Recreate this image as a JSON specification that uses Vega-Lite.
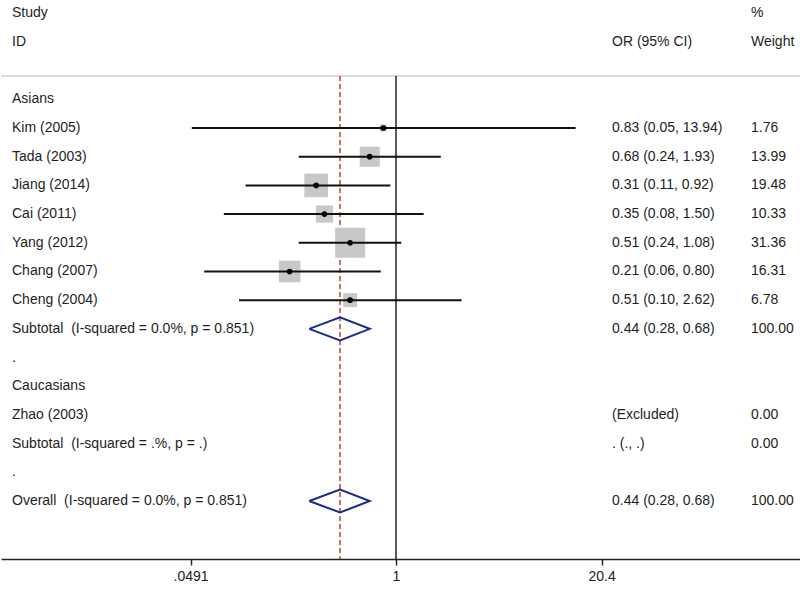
{
  "$schema": "https://vega.github.io/schema/vega-lite/v6.json",
  "width": 800,
  "height": 559,
  "padding": 0,
  "background": "white",
  "config": {"view": {"stroke": null}, "font": "Liberation Sans"},
  "datasets": {
    "studies": [
      {"study": "Kim (2005)", "row": 1, "or": 0.83, "lo": 0.05, "hi": 13.94, "w": 1.76},
      {"study": "Tada (2003)", "row": 2, "or": 0.68, "lo": 0.24, "hi": 1.93, "w": 13.99},
      {"study": "Jiang (2014)", "row": 3, "or": 0.31, "lo": 0.11, "hi": 0.92, "w": 19.48},
      {"study": "Cai (2011)", "row": 4, "or": 0.35, "lo": 0.08, "hi": 1.50, "w": 10.33},
      {"study": "Yang (2012)", "row": 5, "or": 0.51, "lo": 0.24, "hi": 1.08, "w": 31.36},
      {"study": "Chang (2007)", "row": 6, "or": 0.21, "lo": 0.06, "hi": 0.80, "w": 16.31},
      {"study": "Cheng (2004)", "row": 7, "or": 0.51, "lo": 0.10, "hi": 2.62, "w": 6.78}
    ],
    "diamonds": [
      {"grp": "sub", "ord": 1, "x": 0.28, "row": 8},
      {"grp": "sub", "ord": 2, "x": 0.44, "row": 7.6},
      {"grp": "sub", "ord": 3, "x": 0.68, "row": 8},
      {"grp": "sub", "ord": 4, "x": 0.44, "row": 8.4},
      {"grp": "sub", "ord": 5, "x": 0.28, "row": 8},
      {"grp": "all", "ord": 1, "x": 0.28, "row": 14},
      {"grp": "all", "ord": 2, "x": 0.44, "row": 13.6},
      {"grp": "all", "ord": 3, "x": 0.68, "row": 14},
      {"grp": "all", "ord": 4, "x": 0.44, "row": 14.4},
      {"grp": "all", "ord": 5, "x": 0.28, "row": 14}
    ],
    "refs": [
      {"kind": "null", "x": 1, "top": -0.81, "bottom": 16.02},
      {"kind": "pooled", "x": 0.44, "top": -0.81, "bottom": 16.02}
    ],
    "cells": [
      {"row": -3, "col": 0, "t": "Study"},
      {"row": -3, "col": 2, "t": "%"},
      {"row": -2, "col": 0, "t": "ID"},
      {"row": -2, "col": 1, "t": "OR (95% CI)"},
      {"row": -2, "col": 2, "t": "Weight"},
      {"row": 0, "col": 0, "t": "Asians"},
      {"row": 1, "col": 0, "t": "Kim (2005)"},
      {"row": 1, "col": 1, "t": "0.83 (0.05, 13.94)"},
      {"row": 1, "col": 2, "t": "1.76"},
      {"row": 2, "col": 0, "t": "Tada (2003)"},
      {"row": 2, "col": 1, "t": "0.68 (0.24, 1.93)"},
      {"row": 2, "col": 2, "t": "13.99"},
      {"row": 3, "col": 0, "t": "Jiang (2014)"},
      {"row": 3, "col": 1, "t": "0.31 (0.11, 0.92)"},
      {"row": 3, "col": 2, "t": "19.48"},
      {"row": 4, "col": 0, "t": "Cai (2011)"},
      {"row": 4, "col": 1, "t": "0.35 (0.08, 1.50)"},
      {"row": 4, "col": 2, "t": "10.33"},
      {"row": 5, "col": 0, "t": "Yang (2012)"},
      {"row": 5, "col": 1, "t": "0.51 (0.24, 1.08)"},
      {"row": 5, "col": 2, "t": "31.36"},
      {"row": 6, "col": 0, "t": "Chang (2007)"},
      {"row": 6, "col": 1, "t": "0.21 (0.06, 0.80)"},
      {"row": 6, "col": 2, "t": "16.31"},
      {"row": 7, "col": 0, "t": "Cheng (2004)"},
      {"row": 7, "col": 1, "t": "0.51 (0.10, 2.62)"},
      {"row": 7, "col": 2, "t": "6.78"},
      {"row": 8, "col": 0, "t": "Subtotal\u00a0 (I-squared = 0.0%, p = 0.851)"},
      {"row": 8, "col": 1, "t": "0.44 (0.28, 0.68)"},
      {"row": 8, "col": 2, "t": "100.00"},
      {"row": 9, "col": 0, "t": "."},
      {"row": 10, "col": 0, "t": "Caucasians"},
      {"row": 11, "col": 0, "t": "Zhao (2003)"},
      {"row": 11, "col": 1, "t": "(Excluded)"},
      {"row": 11, "col": 2, "t": "0.00"},
      {"row": 12, "col": 0, "t": "Subtotal\u00a0 (I-squared = .%, p = .)"},
      {"row": 12, "col": 1, "t": ". (., .)"},
      {"row": 12, "col": 2, "t": "0.00"},
      {"row": 13, "col": 0, "t": "."},
      {"row": 14, "col": 0, "t": "Overall\u00a0 (I-squared = 0.0%, p = 0.851)"},
      {"row": 14, "col": 1, "t": "0.44 (0.28, 0.68)"},
      {"row": 14, "col": 2, "t": "100.00"}
    ]
  },
  "resolve": {"scale": {"x": "independent"}, "axis": {"x": "independent"}},
  "layer": [
    {
      "data": {"values": [{"row": -0.81}]},
      "mark": {"type": "rule", "color": "#dcdcdc", "strokeWidth": 2},
      "encoding": {
        "y": {"field": "row", "type": "quantitative", "axis": null,
              "scale": {"domain": [-3.46, 16.02], "reverse": true, "nice": false, "zero": false}}
      }
    },
    {
      "layer": [
        {
          "data": {"name": "refs"},
          "transform": [{"filter": "datum.kind == 'null'"}],
          "mark": {"type": "rule", "color": "#222222", "strokeWidth": 1.5},
          "encoding": {
            "x": {"field": "x", "type": "quantitative",
                  "scale": {"type": "log", "domain": [0.003044, 380.4], "nice": false, "zero": false},
                  "axis": {"values": [0.0491, 1, 20.4],
                           "labelExpr": "datum.value < 0.1 ? '.0491' : (datum.value == 1 ? '1' : '20.4')",
                           "title": null, "grid": false, "domainColor": "#222222", "domainWidth": 1.5,
                           "tickColor": "#222222", "tickWidth": 1.5, "tickSize": 6, "labelFontSize": 14,
                           "labelColor": "#222222", "labelPadding": 4, "labelFlush": false, "labelOverlap": false}},
            "y": {"field": "top", "type": "quantitative", "axis": null,
                  "scale": {"domain": [-3.46, 16.02], "reverse": true, "nice": false, "zero": false}},
            "y2": {"field": "bottom"}
          }
        },
        {
          "data": {"name": "refs"},
          "transform": [{"filter": "datum.kind == 'pooled'"}],
          "mark": {"type": "rule", "color": "#c0403a", "strokeWidth": 1.5, "strokeDash": [5, 3]},
          "encoding": {
            "x": {"field": "x", "type": "quantitative"},
            "y": {"field": "top", "type": "quantitative"},
            "y2": {"field": "bottom"}
          }
        },
        {
          "data": {"name": "studies"},
          "mark": {"type": "square", "filled": true, "color": "#c8c8c8", "opacity": 1},
          "encoding": {
            "x": {"field": "or", "type": "quantitative"},
            "y": {"field": "row", "type": "quantitative"},
            "size": {"field": "w", "type": "quantitative", "legend": null,
                     "scale": {"type": "linear", "domain": [0, 31.36], "range": [0, 900], "zero": true}}
          }
        },
        {
          "data": {"name": "studies"},
          "mark": {"type": "rule", "color": "#111111", "strokeWidth": 2},
          "encoding": {
            "x": {"field": "lo", "type": "quantitative"},
            "x2": {"field": "hi"},
            "y": {"field": "row", "type": "quantitative"}
          }
        },
        {
          "data": {"name": "studies"},
          "mark": {"type": "circle", "color": "#000000", "opacity": 1, "size": 32},
          "encoding": {
            "x": {"field": "or", "type": "quantitative"},
            "y": {"field": "row", "type": "quantitative"}
          }
        },
        {
          "data": {"name": "diamonds"},
          "mark": {"type": "line", "color": "#1c2a8a", "strokeWidth": 2, "strokeJoin": "miter"},
          "encoding": {
            "x": {"field": "x", "type": "quantitative"},
            "y": {"field": "row", "type": "quantitative"},
            "detail": {"field": "grp"},
            "order": {"field": "ord", "type": "quantitative"}
          }
        }
      ]
    },
    {
      "data": {"name": "cells"},
      "mark": {"type": "text", "align": "left", "baseline": "middle", "fontSize": 14, "color": "#1e1e1e"},
      "encoding": {
        "x": {"field": "col", "type": "quantitative", "axis": null,
              "scale": {"type": "linear", "domain": [0, 1, 2], "range": [11, 611, 750], "nice": false, "zero": false}},
        "y": {"field": "row", "type": "quantitative"},
        "text": {"field": "t"}
      }
    }
  ]
}
